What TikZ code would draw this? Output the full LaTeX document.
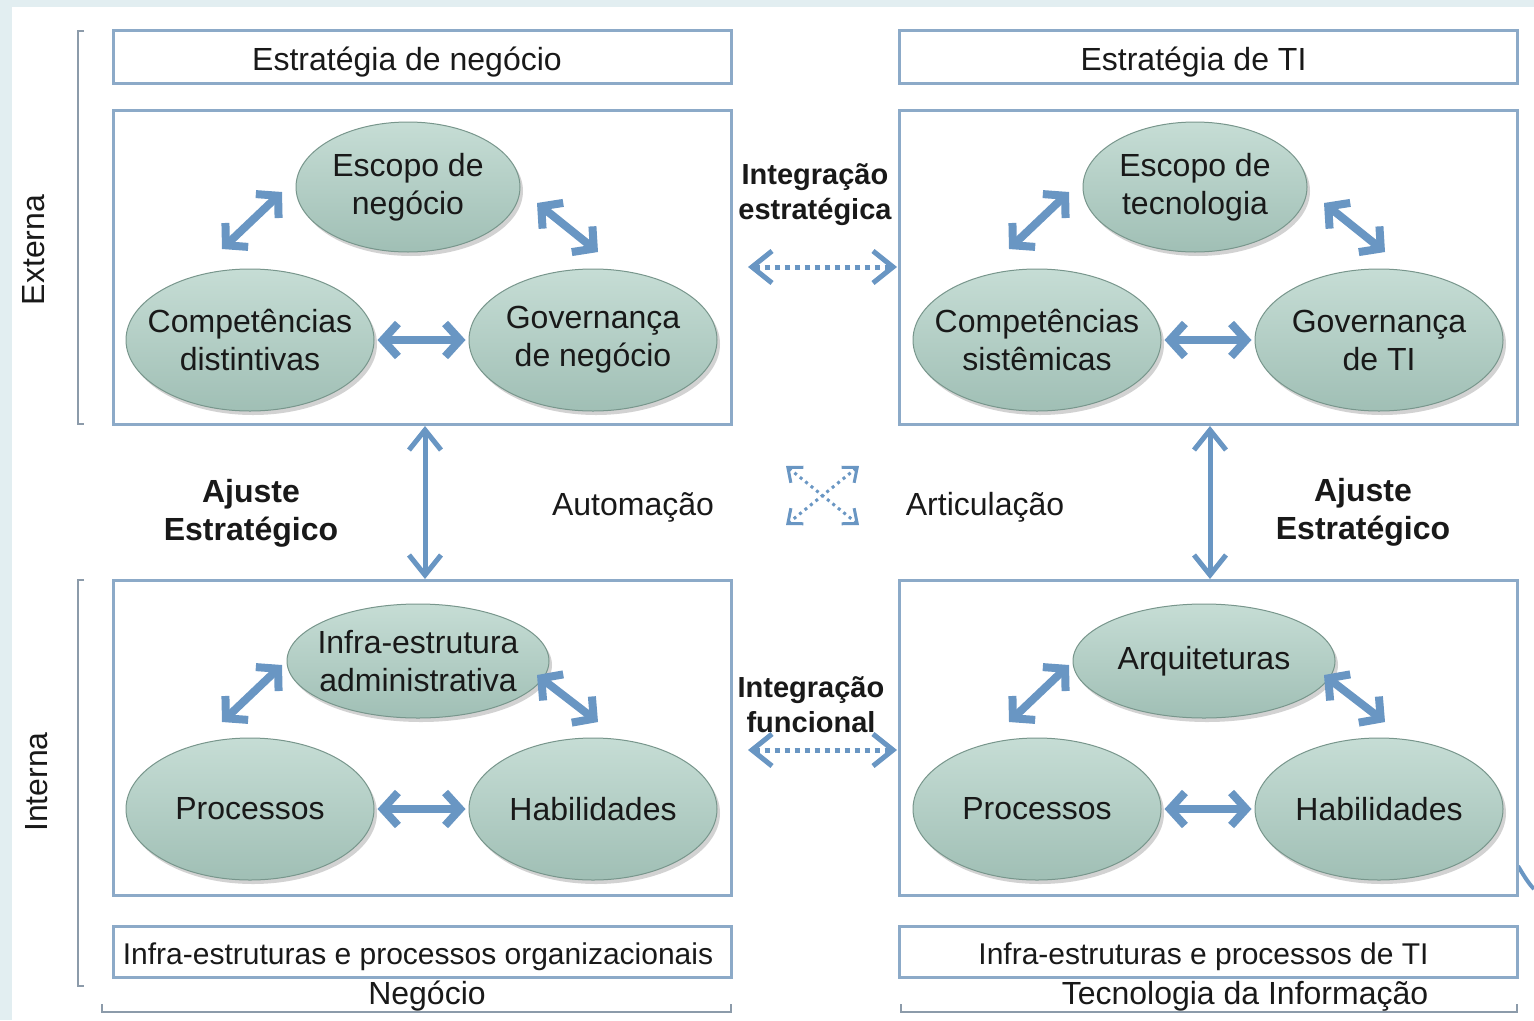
\documentclass[tikz,border=0pt]{standalone}
\usepackage{fontspec}
\setmainfont{Liberation Sans}
\usetikzlibrary{shapes.geometric,arrows.meta,shadows}
\definecolor{boxblue}{RGB}{140,170,200}
\definecolor{arrblue}{RGB}{105,150,195}
\definecolor{elltop}{RGB}{198,221,213}
\definecolor{ellbot}{RGB}{160,191,181}
\definecolor{ellrim}{RGB}{120,150,140}
\definecolor{bgblue}{RGB}{226,238,241}
\definecolor{brk}{RGB}{140,155,170}
\definecolor{txt}{RGB}{25,25,25}
\tikzset{
  txtf/.style={font=\fontsize{32}{38}\selectfont, text=txt},
  hdr/.style={draw=boxblue, line width=3pt, fill=white, rectangle, inner sep=0pt, minimum width=618pt, minimum height=53pt, txtf, text height=33pt, text depth=6pt},
  ftr/.style={hdr, minimum height=51pt, font=\fontsize{30}{36}\selectfont, text height=32pt, text depth=6pt},
  mainbox/.style={draw=boxblue, line width=3pt, fill=white, rectangle, inner sep=0pt, minimum width=618pt, minimum height=314pt},
  ell/.style={ellipse, inner sep=0pt, top color=elltop, bottom color=ellbot, draw=ellrim, line width=1pt,
     drop shadow={shadow xshift=3pt, shadow yshift=-4pt, opacity=0.35}},
  ellS/.style={ell, minimum width=248pt, minimum height=142pt},
  ellT/.style={ell, minimum width=224pt, minimum height=130pt},
  ellW/.style={ell, minimum width=262pt, minimum height=114pt},
  elltxt/.style={txtf, align=center, inner sep=0pt},
  bigarr/.style={draw=arrblue, line width=8pt, {Straight Barb[length=15pt,width=33pt]}-{Straight Barb[length=15pt,width=33pt]}},
  vertarr/.style={draw=arrblue, line width=5pt, {Straight Barb[length=20pt,width=32pt]}-{Straight Barb[length=20pt,width=32pt]}},
  dotarr/.style={draw=arrblue, line width=5pt, dash pattern=on 5pt off 5pt, {Straight Barb[length=20pt,width=32pt]}-{Straight Barb[length=20pt,width=32pt]}},
  crossarr/.style={draw=arrblue, line width=3pt, dash pattern=on 3pt off 4pt, {Straight Barb[length=12pt,width=20pt]}-{Straight Barb[length=12pt,width=20pt]}},
  brkline/.style={draw=brk, line width=1.5pt},
  boldlbl/.style={font=\bfseries\fontsize{32}{38}\selectfont, text=txt, align=center},
  intlbl/.style={font=\bfseries\fontsize{29}{35}\selectfont, text=txt, align=center}
}
\begin{document}
\begin{tikzpicture}[x=1pt,y=-1pt]
\useasboundingbox (0,0) rectangle (1534,1020);
\fill[bgblue] (0,0) rectangle (1534,1020);
\fill[white] (12,7) rectangle (1534,1020);
\draw[arrblue, line width=4pt] (1518,866) .. controls (1524,876) and (1529,884) .. (1534,889);

% boxes
\node[hdr] (hTL) at (422,56.5) {Estratégia de negócio\hspace*{30pt}};
\node[hdr] (hTR) at (1208.5,56.5) {Estratégia de TI\hspace*{30pt}};
\node[mainbox] (bTL) at (422,267) {};
\node[mainbox] (bTR) at (1208.5,267) {};
\node[mainbox, minimum height=315pt] (bBL) at (422,737.5) {};
\node[mainbox, minimum height=315pt] (bBR) at (1208.5,737.5) {};
\node[ftr] (fBL) at (422,951.5) {Infra-estruturas e processos organizacionais\hspace*{8pt}};
\node[ftr] (fBR) at (1208.5,951.5) {Infra-estruturas e processos de TI\hspace*{10pt}};

% ellipses top-left
\node[ellT] (eTL1) at (408,187) {};
\node[ellS] (eTL2) at (250,340) {};
\node[ellS] (eTL3) at (593,340) {};
\node[elltxt] (tTL1) at (eTL1) {Escopo de\\negócio};
\node[elltxt] (tTL2) at (eTL2) {Competências\\distintivas};
\node[elltxt] (tTL3) at (eTL3) {Governança\\de negócio};
% top-right
\node[ellT] (eTR1) at (1195,187) {};
\node[ellS] (eTR2) at (1037,340) {};
\node[ellS] (eTR3) at (1379,340) {};
\node[elltxt] (tTR1) at (eTR1) {Escopo de\\tecnologia};
\node[elltxt] (tTR2) at (eTR2) {Competências\\sistêmicas};
\node[elltxt] (tTR3) at (eTR3) {Governança\\de TI};
% bottom-left
\node[ellW] (eBL1) at (418,661) {};
\node[ellS] (eBL2) at (250,809) {};
\node[ellS] (eBL3) at (593,809) {};
\node[elltxt] (tBL1) at (eBL1) {Infra-estrutura\\administrativa};
\node[elltxt] (tBL2) at (eBL2) {Processos};
\node[elltxt] (tBL3) at (eBL3) {Habilidades};
% bottom-right
\node[ellW] (eBR1) at (1204,661) {};
\node[ellS] (eBR2) at (1037,809) {};
\node[ellS] (eBR3) at (1379,809) {};
\node[elltxt] (tBR1) at (eBR1) {Arquiteturas};
\node[elltxt] (tBR2) at (eBR2) {Processos};
\node[elltxt] (tBR3) at (eBR3) {Habilidades};

% arrow end coordinates
\coordinate (tl1a) at (222,249); \coordinate (tl1b) at (282,192);
\coordinate (tl2a) at (537,203); \coordinate (tl2b) at (598,252);
\coordinate (tr1a) at (1009,249); \coordinate (tr1b) at (1069,192);
\coordinate (tr2a) at (1324,203); \coordinate (tr2b) at (1385,252);
\coordinate (bl1a) at (222,722); \coordinate (bl1b) at (282,665);
\coordinate (bl2a) at (537,675); \coordinate (bl2b) at (598,722);
\coordinate (br1a) at (1009,722); \coordinate (br1b) at (1069,665);
\coordinate (br2a) at (1324,675); \coordinate (br2b) at (1385,722);

\draw[bigarr] (tl1a) -- (tl1b);
\draw[bigarr] (tl2a) -- (tl2b);
\draw[bigarr, shorten <=3pt, shorten >=3pt] (eTL2.east) -- (eTL3.west);
\draw[bigarr] (tr1a) -- (tr1b);
\draw[bigarr] (tr2a) -- (tr2b);
\draw[bigarr, shorten <=3pt, shorten >=3pt] (eTR2.east) -- (eTR3.west);
\draw[bigarr] (bl1a) -- (bl1b);
\draw[bigarr] (bl2a) -- (bl2b);
\draw[bigarr, shorten <=3pt, shorten >=3pt] (eBL2.east) -- (eBL3.west);
\draw[bigarr] (br1a) -- (br1b);
\draw[bigarr] (br2a) -- (br2b);
\draw[bigarr, shorten <=3pt, shorten >=3pt] (eBR2.east) -- (eBR3.west);

% vertical arrows
\coordinate (vLt) at (425,426); \coordinate (vLb) at (425,579);
\coordinate (vRt) at (1210,426); \coordinate (vRb) at (1210,579);
\draw[vertarr] (vLt) -- (vLb);
\draw[vertarr] (vRt) -- (vRb);

% integration arrows
\coordinate (iSa) at (748,267); \coordinate (iSb) at (897,267);
\coordinate (iFa) at (748,750); \coordinate (iFb) at (897,750);
\draw[dotarr] (iSa) -- (iSb);
\draw[dotarr] (iFa) -- (iFb);
\node[intlbl] (lIS) at (815,195) {Integração\\estratégica};
\node[intlbl] (lIF) at (811,705) {Integração\\funcional};

% cross
\coordinate (c1) at (786,466); \coordinate (c2) at (859,525);
\coordinate (c3) at (859,466); \coordinate (c4) at (786,525);
\draw[crossarr] (c1) -- (c2);
\draw[crossarr] (c3) -- (c4);

\node[txtf] (lAut) at (633,507) {Automação};
\node[txtf] (lArt) at (985,507) {Articulação};
\node[boldlbl] (lAjL) at (251,513) {Ajuste\\Estratégico};
\node[boldlbl] (lAjR) at (1363,512) {Ajuste\\Estratégico};

% brackets
\draw[brkline] (84,31) -- (78,31) -- (78,424) -- (84,424);
\draw[brkline] (84,580) -- (78,580) -- (78,986) -- (84,986);
\draw[brkline] (102,1004) -- (102,1012) -- (731,1012) -- (731,1004);
\draw[brkline] (901,1004) -- (901,1012) -- (1517,1012) -- (1517,1004);
\node[txtf, rotate=90] (lExt) at (34,250) {Externa};
\node[txtf, rotate=90] (lInt) at (37,782) {Interna};
\node[txtf] (lNeg) at (427,996) {Negócio};
\node[txtf] (lTI) at (1245,996) {Tecnologia da Informação};
\end{tikzpicture}
\end{document}
